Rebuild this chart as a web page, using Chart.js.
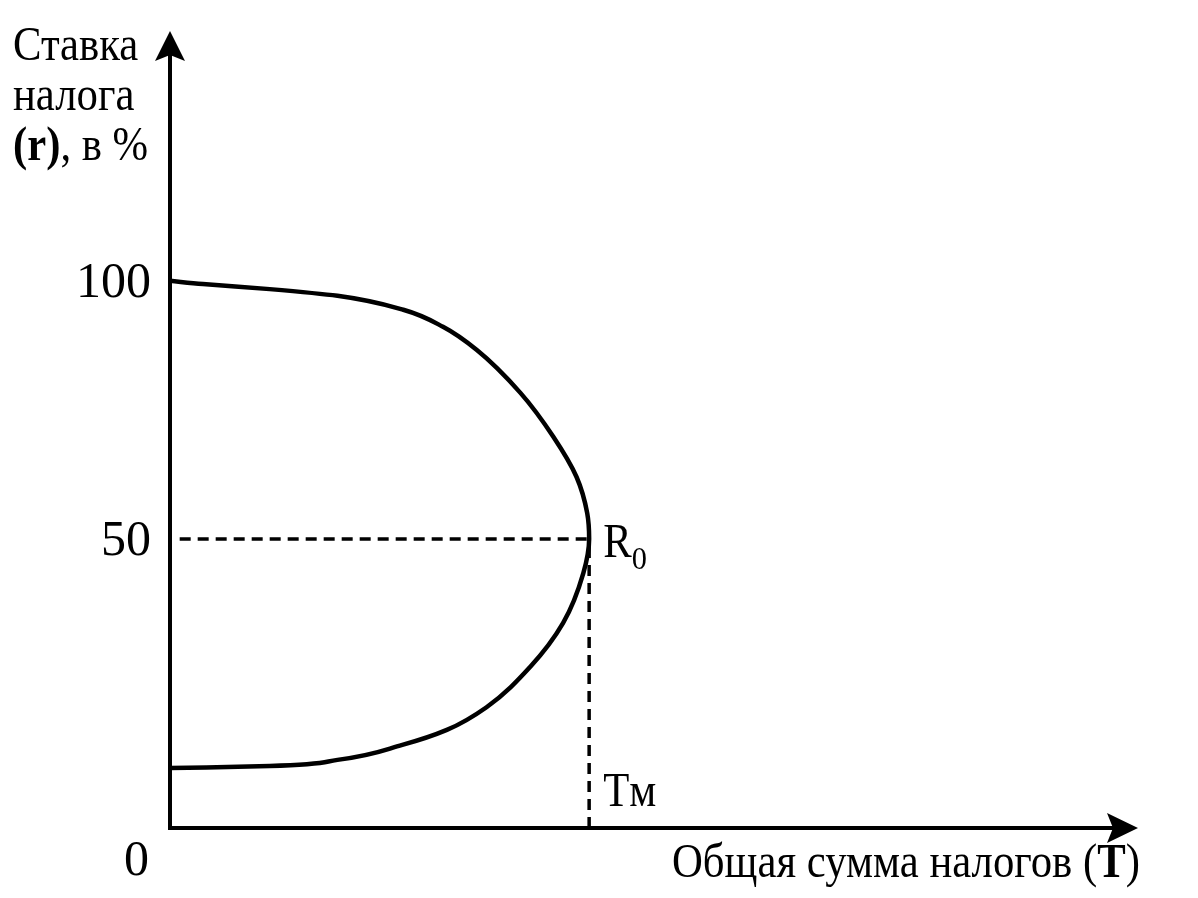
<!DOCTYPE html>
<html><head><meta charset="utf-8">
<script src="https://cdn.jsdelivr.net/npm/chart.js@4.4.1/dist/chart.umd.min.js"></script>
<style>html,body{margin:0;padding:0;background:#fff;}canvas{display:block;}</style>
</head><body>
<canvas id="c" width="1198" height="898"></canvas>
<script>
// Data (T = total tax revenue, r = tax rate in %), ordered by rising rate
const curveR = [5.6, 6.0, 7.2, 10.1, 13.0, 17.4, 25.2, 33.7, 43.4, 50, 55.0, 62.0, 69.8, 78.3, 86.6, 91.1, 94.4, 97.1, 98.4, 99.4, 100];
const curveT = [0, 10.3, 17.3, 24.0, 28.6, 32.7, 37.2, 40.6, 42.7, 43.3, 43.1, 42.0, 39.6, 36.2, 31.7, 28.2, 24.1, 17.3, 10.3, 3.4, 0];
const peakT = 43.3;   // Tм
const peakR = 50;     // R0
const yTickValues = [100, 50];
const yTickLabels = ['100', '50'];
const originLabel = '0';
const yTitleLines = ['Ставка', 'налога'];
const xTitle = 'Общая сумма налогов ';
const peakLabel = 'R';
const peakSub = '0';
const tmLabel = 'Tм';

const curve = curveT.map((t, i) => ({x: t, y: curveR[i]}));
const FONT = '"Liberation Serif", "Times New Roman", serif';
const SX = 0.89;

function txt(ctx, s, x, y, font, sx) {
  ctx.save(); ctx.font = font; ctx.translate(x, y); ctx.scale(sx, 1);
  ctx.fillText(s, 0, 0);
  const w = ctx.measureText(s).width * sx; ctx.restore(); return w;
}

const overlay = {
  id: 'overlay',
  afterDraw(chart) {
    const {ctx, chartArea: a, scales: {x, y}} = chart;
    const x0 = x.getPixelForValue(0), y0 = a.bottom;
    ctx.save();
    ctx.strokeStyle = '#000'; ctx.fillStyle = '#000'; ctx.lineWidth = 4;
    ctx.beginPath(); ctx.moveTo(x0, y0 + 2); ctx.lineTo(x0, a.top + 25); ctx.stroke();
    ctx.beginPath(); ctx.moveTo(x0, a.top + 1); ctx.lineTo(x0 + 15, a.top + 31); ctx.lineTo(x0, a.top + 25); ctx.lineTo(x0 - 15, a.top + 31); ctx.closePath(); ctx.fill();
    ctx.beginPath(); ctx.moveTo(x0 - 2, y0); ctx.lineTo(a.right - 25, y0); ctx.stroke();
    ctx.beginPath(); ctx.moveTo(a.right, y0); ctx.lineTo(a.right - 31, y0 - 15); ctx.lineTo(a.right - 25, y0); ctx.lineTo(a.right - 31, y0 + 15); ctx.closePath(); ctx.fill();
    ctx.textAlign = 'left'; ctx.textBaseline = 'alphabetic';
    const N = '48px ' + FONT, B = 'bold 48px ' + FONT, T = '50px ' + FONT;
    ctx.font = T;
    yTickValues.forEach((v, i) => {
      const w = ctx.measureText(yTickLabels[i]).width;
      txt(ctx, yTickLabels[i], 151 - w, y.getPixelForValue(v) + 16, T, 1);
    });
    txt(ctx, originLabel, 124, 875, T, 1);
    txt(ctx, yTitleLines[0], 13, 60, N, SX);
    txt(ctx, yTitleLines[1], 13, 110, N, SX);
    let px = 13;
    px += txt(ctx, '(r)', px, 160, B, SX);
    txt(ctx, ', в %', px, 160, N, SX);
    px = 672;
    px += txt(ctx, xTitle + '(', px, 877, N, SX);
    px += txt(ctx, 'T', px, 877, B, SX);
    txt(ctx, ')', px, 877, N, SX);
    const rx = x.getPixelForValue(peakT) + 14, ry = y.getPixelForValue(peakR) + 18;
    const rw = txt(ctx, peakLabel, rx, ry, N, SX);
    txt(ctx, peakSub, rx + rw, ry + 12, '32px ' + FONT, 0.95);
    txt(ctx, tmLabel, rx, 806, N, SX);
    ctx.restore();
  }
};

new Chart(document.getElementById('c'), {
  type: 'line',
  data: {
    datasets: [
      {data: curve, borderColor: '#000', borderWidth: 4.5, cubicInterpolationMode: 'monotone', pointRadius: 0, fill: false},
      {data: [{x: 1, y: peakR}, {x: peakT, y: peakR}], borderColor: '#000', borderWidth: 3.5, borderDash: [11, 7], pointRadius: 0},
      {data: [{x: peakT, y: -6}, {x: peakT, y: peakR}], borderColor: '#000', borderWidth: 3.5, borderDash: [11, 7], pointRadius: 0}
    ]
  },
  options: {
    indexAxis: 'y',
    responsive: false, animation: false,
    layout: {padding: {left: 170, right: 60, top: 30, bottom: 70}},
    plugins: {legend: {display: false}, tooltip: {enabled: false}},
    scales: {
      x: {type: 'linear', min: 0, max: 100, display: false},
      y: {type: 'linear', min: -6, max: 148.6, display: false}
    }
  },
  plugins: [overlay]
});
</script>
</body></html>
